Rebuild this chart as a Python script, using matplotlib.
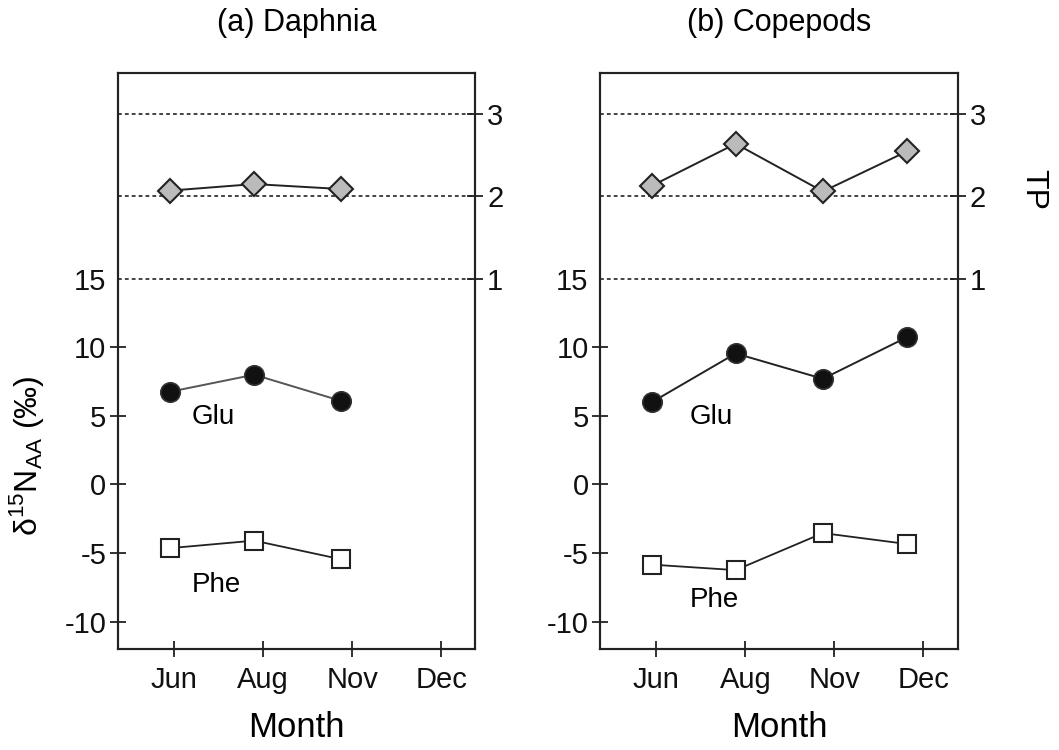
import numpy as np
import matplotlib
matplotlib.use('Agg')
import matplotlib.pyplot as plt

plt.rcParams['font.family'] = ['Liberation Sans', 'DejaVu Sans']
plt.rcParams['mathtext.fontset'] = 'custom'
plt.rcParams['mathtext.rm'] = 'Liberation Sans'
plt.rcParams['axes.unicode_minus'] = False

months = ['Jun', 'Aug', 'Nov', 'Dec']

# sampling positions (slightly left of the month ticks)
x_daphnia = [-0.05, 0.90, 1.87]
x_copepods = [-0.05, 0.89, 1.87, 2.82]

glu_daphnia = [6.75, 8.0, 6.1]
phe_daphnia = [-4.65, -4.1, -5.45]
tp_daphnia = [2.07, 2.15, 2.09]

glu_copepods = [6.0, 9.55, 7.7, 10.75]
phe_copepods = [-5.85, -6.25, -3.55, -4.35]
tp_copepods = [2.13, 2.64, 2.06, 2.55]

tp_lines = [1, 2, 3]

fig = plt.figure(figsize=(10.59, 7.5), dpi=100)

panels = [
    ('(a) Daphnia', 0.1114, x_daphnia, glu_daphnia, phe_daphnia, tp_daphnia, '#555555', (0.44, 4.9), (0.48, -7.3)),
    ('(b) Copepods', 0.5669, x_copepods, glu_copepods, phe_copepods, tp_copepods, '#222222', (0.62, 4.9), (0.65, -8.4)),
]

spine_c = '#222222'
for i, (title, left, xs, glu, phe, tp, glu_line, glu_pos, phe_pos) in enumerate(panels):
    ax = fig.add_axes([left, 0.1347, 0.3375, 0.768])
    ax2 = ax.twinx()

    ax.plot(xs, glu, '-', color=glu_line, lw=1.4, marker='o', ms=14,
            mfc='#111111', mec='#333333', mew=1.2, zorder=3)
    ax.plot(xs, phe, '-', color='#222222', lw=1.3, marker='s', ms=13,
            mfc='white', mec='#222222', mew=1.5, zorder=3)

    for t in tp_lines:
        ax2.axhline(t, color='#111111', lw=1.1, ls=(0, (2.5, 2)), zorder=1)
    ax2.plot(xs, tp, '-', color='#222222', lw=1.4, marker='D', ms=12,
             mfc='#bbbbbb', mec='#222222', mew=1.5, zorder=3)

    ax.set_xlim(-0.63, 3.385)
    ax.set_ylim(-12, 30)
    ax2.set_ylim(-3.5, 3.5)

    ax.set_xticks(range(len(months)))
    ax.set_xticklabels(months)
    ax.set_yticks([-10, -5, 0, 5, 10, 15])
    ax2.set_yticks(tp_lines)
    ax.get_yaxis().get_major_ticks()[-1].tick1line.set_visible(False)

    for a in (ax, ax2):
        a.tick_params(direction='inout', length=11, width=1.3, labelsize=21,
                      color=spine_c, labelcolor='#111111')
        for s in a.spines.values():
            s.set_linewidth(1.5)
            s.set_color(spine_c)
    ax.tick_params(axis='x', pad=7)
    ax.tick_params(axis='y', pad=3)
    ax2.tick_params(axis='y', pad=3)

    ax.text(glu_pos[0], glu_pos[1], 'Glu', fontsize=20, ha='center', va='center')
    ax.text(phe_pos[0], phe_pos[1], 'Phe', fontsize=20, ha='center', va='center')

    ax.set_title(title, fontsize=22, pad=30)
    ax.set_xlabel('Month', fontsize=25, labelpad=12)

    if i == 0:
        ax.set_ylabel(r'δ$^{\mathregular{15}}$N$_{\mathregular{AA}}$ (‰)', fontsize=23, va='center')
        ax.yaxis.set_label_coords(-0.255, 0.335)
    else:
        ax2.set_ylabel('TP', fontsize=23, rotation=270, va='center')
        ax2.yaxis.set_label_coords(1.21, 0.797)

fig.savefig('out.png', dpi=100)
